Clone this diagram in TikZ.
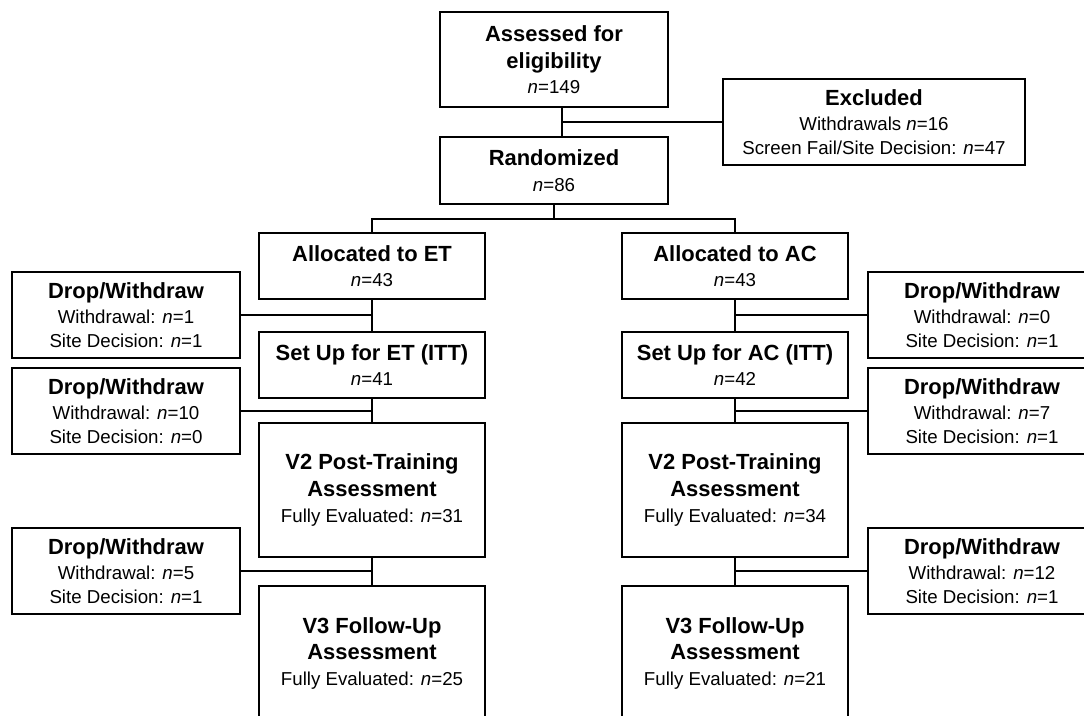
\documentclass[tikz,border=0pt]{standalone}
\usepackage{fontspec}
\setmainfont{Liberation Sans}
\usetikzlibrary{positioning,calc}

\newcommand{\boxhead}[1]{{\fontsize{15.6}{19}\selectfont\bfseries #1}}
\newcommand{\nn}{\textit{n}}

\tikzset{
  flowbox/.style 2 args={draw, line width=1.35pt, align=center, inner sep=0pt,
    minimum width=#1cm, minimum height=#2cm, font=\fontsize{13.3}{17}\selectfont},
  link/.style={line width=1.35pt}
}

\begin{document}
\begin{tikzpicture}[x=0.025cm, y=-0.025cm]
  \useasboundingbox (0,0) rectangle (1084,716);
  \clip (0,0) rectangle (1084,716);

  % Screening and randomisation
  \node[flowbox={5.7}{2.375}] (elig) at (554,59.5) {\boxhead{Assessed for}\\[2pt]\boxhead{eligibility}\\[1pt]\nn=149};
  \node[flowbox={7.55}{2.15}] (excl) at (874,122) {\boxhead{Excluded}\\[1pt]Withdrawals \nn=16\\Screen Fail/Site Decision: \nn=47};
  \node[flowbox={5.7}{1.675}] (rand) at (554,170.5) {\boxhead{Randomized}\\[1pt]\nn=86};

  % ET arm
  \node[flowbox={5.65}{1.65}] (allocET) at (372,266) {\boxhead{Allocated to ET}\\[1pt]\nn=43};
  \node[flowbox={5.65}{1.65}] (setupET) at (372,365) {\boxhead{Set Up for ET (ITT)}\\[1pt]\nn=41};
  \node[flowbox={5.65}{3.35}] (vtwoET) at (372,490) {\boxhead{V2 Post-Training}\\[2pt]\boxhead{Assessment}\\[1pt]Fully Evaluated: \nn=31};
  \node[flowbox={5.65}{3.35}] (vthreeET) at (372,653) {\boxhead{V3 Follow-Up}\\[2pt]\boxhead{Assessment}\\[1pt]Fully Evaluated: \nn=25};
  \node[flowbox={5.7}{2.15}] (dropETa) at (126,315) {\boxhead{Drop/Withdraw}\\[1pt]Withdrawal: \nn=1\\Site Decision: \nn=1};
  \node[flowbox={5.7}{2.15}] (dropETb) at (126,411) {\boxhead{Drop/Withdraw}\\[1pt]Withdrawal: \nn=10\\Site Decision: \nn=0};
  \node[flowbox={5.7}{2.15}] (dropETc) at (126,571) {\boxhead{Drop/Withdraw}\\[1pt]Withdrawal: \nn=5\\Site Decision: \nn=1};

  % AC arm
  \node[flowbox={5.65}{1.65}] (allocAC) at (735,266) {\boxhead{Allocated to AC}\\[1pt]\nn=43};
  \node[flowbox={5.65}{1.65}] (setupAC) at (735,365) {\boxhead{Set Up for AC (ITT)}\\[1pt]\nn=42};
  \node[flowbox={5.65}{3.35}] (vtwoAC) at (735,490) {\boxhead{V2 Post-Training}\\[2pt]\boxhead{Assessment}\\[1pt]Fully Evaluated: \nn=34};
  \node[flowbox={5.65}{3.35}] (vthreeAC) at (735,653) {\boxhead{V3 Follow-Up}\\[2pt]\boxhead{Assessment}\\[1pt]Fully Evaluated: \nn=21};
  \node[flowbox={5.7}{2.15}] (dropACa) at (982,315) {\boxhead{Drop/Withdraw}\\[1pt]Withdrawal: \nn=0\\Site Decision: \nn=1};
  \node[flowbox={5.7}{2.15}] (dropACb) at (982,411) {\boxhead{Drop/Withdraw}\\[1pt]Withdrawal: \nn=7\\Site Decision: \nn=1};
  \node[flowbox={5.7}{2.15}] (dropACc) at (982,571) {\boxhead{Drop/Withdraw}\\[1pt]Withdrawal: \nn=12\\Site Decision: \nn=1};

  % connectors
  \coordinate (trunk) at ([xshift=0.2cm]elig.south);
  \coordinate (split) at (554,219);
  \draw[link] (trunk) -- (trunk |- rand.north);
  \draw[link] (excl.west) -- (excl.west -| trunk);
  \draw[link] (rand.south) -- (split);
  \draw[link] (allocET.north) |- (split) -| (allocAC.north);

  \draw[link] (allocET) -- (setupET);
  \draw[link] (setupET) -- (vtwoET);
  \draw[link] (vtwoET) -- (vthreeET);
  \draw[link] (dropETa.east) -- (dropETa.east -| allocET.south);
  \draw[link] (dropETb.east) -- (dropETb.east -| setupET.south);
  \draw[link] (dropETc.east) -- (dropETc.east -| vtwoET.south);

  \draw[link] (allocAC) -- (setupAC);
  \draw[link] (setupAC) -- (vtwoAC);
  \draw[link] (vtwoAC) -- (vthreeAC);
  \draw[link] (dropACa.west) -- (dropACa.west -| allocAC.south);
  \draw[link] (dropACb.west) -- (dropACb.west -| setupAC.south);
  \draw[link] (dropACc.west) -- (dropACc.west -| vtwoAC.south);
\end{tikzpicture}
\end{document}
